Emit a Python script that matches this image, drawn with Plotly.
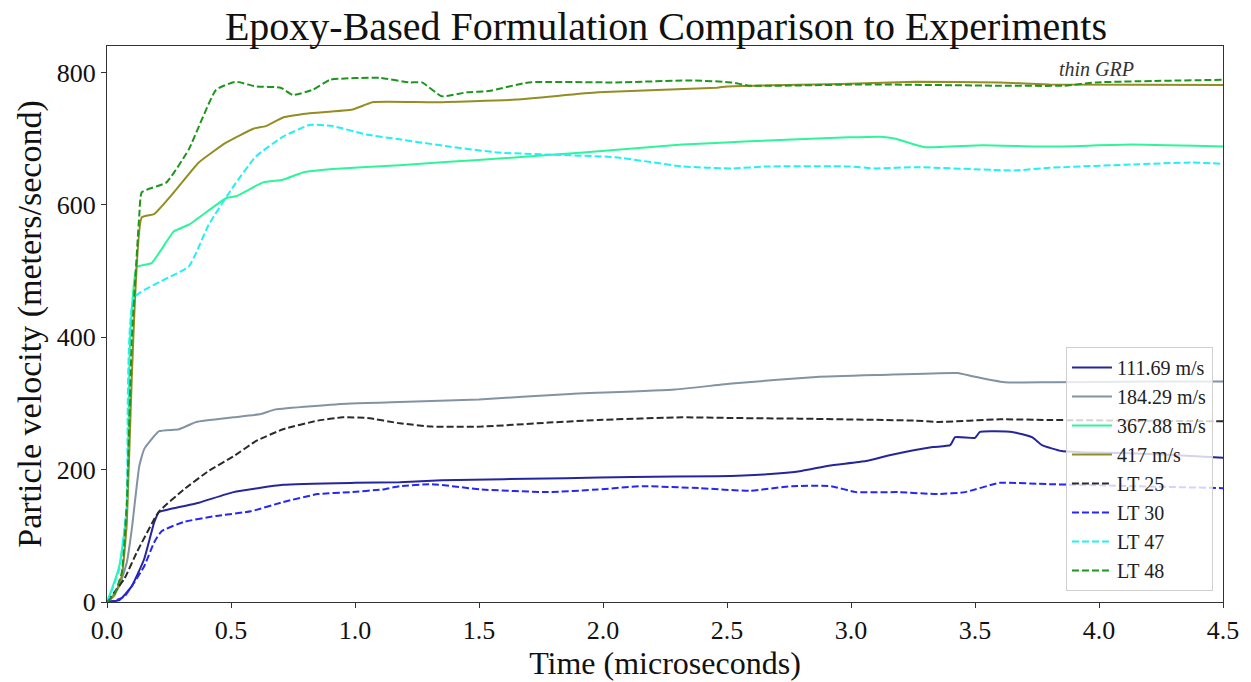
import plotly.graph_objects as go

# ---- data ----
labels = ["111.69 m/s", "184.29 m/s", "367.88 m/s", "417 m/s", "LT 25", "LT 30", "LT 47", "LT 48"]

t_111 = [0, 0.05, 0.10, 0.15, 0.19, 0.21, 0.25, 0.37, 0.51, 0.71, 1.0, 1.18, 1.35, 1.85, 2.12, 2.46, 2.66, 2.80, 2.91, 3.06, 3.16, 3.33, 3.40, 3.42, 3.50, 3.52, 3.65, 3.73, 3.77, 3.85, 3.95, 4.1, 4.3, 4.5]
v_111 = [0, 3, 24, 65, 120, 136, 140, 150, 166, 177, 180, 181, 184, 187, 189, 190, 193, 198, 206, 213, 222, 234, 237, 249, 248, 257, 257, 249, 237, 228, 226, 225, 222, 218]

t_184 = [0, 0.02, 0.05, 0.08, 0.10, 0.13, 0.15, 0.21, 0.29, 0.36, 0.51, 0.62, 0.68, 0.98, 1.18, 1.5, 1.85, 2.29, 2.52, 2.86, 3.12, 3.43, 3.49, 3.62, 3.80, 4.2, 4.5]
v_184 = [0, 8, 24, 60, 110, 205, 231, 258, 261, 272, 279, 284, 291, 300, 302, 306, 314, 321, 330, 340, 343, 346, 341, 332, 332, 333, 333]

t_367 = [0, 0.02, 0.05, 0.08, 0.093, 0.12, 0.18, 0.27, 0.33, 0.48, 0.52, 0.63, 0.71, 0.79, 0.91, 1.18, 1.38, 1.58, 1.92, 2.32, 2.59, 2.99, 3.12, 3.18, 3.24, 3.30, 3.53, 3.80, 4.13, 4.5]
v_367 = [0, 20, 55, 136, 397, 506, 512, 560, 570, 610, 613, 634, 638, 649, 654, 660, 665, 670, 679, 691, 696, 702, 703, 700, 693, 687, 690, 688, 691, 688]

t_417 = [0, 0.03, 0.06, 0.08, 0.10, 0.14, 0.19, 0.27, 0.37, 0.48, 0.59, 0.64, 0.71, 0.81, 0.99, 1.07, 1.31, 1.65, 1.98, 2.46, 2.50, 2.99, 3.26, 3.60, 3.80, 4.5]
v_417 = [0, 10, 40, 120, 340, 581, 586, 619, 664, 694, 715, 719, 732, 738, 744, 755, 755, 759, 770, 777, 779, 783, 786, 785, 782, 781]

t_lt25 = [0, 0.03, 0.07, 0.12, 0.19, 0.21, 0.31, 0.41, 0.51, 0.60, 0.71, 0.85, 0.95, 1.05, 1.18, 1.31, 1.51, 1.78, 1.98, 2.32, 2.52, 2.79, 3.26, 3.35, 3.60, 3.80, 4.5]
v_lt25 = [0, 15, 35, 75, 125, 137, 170, 198, 220, 243, 261, 274, 279, 278, 270, 265, 265, 271, 275, 279, 278, 277, 274, 272, 276, 275, 273]

t_lt30 = [0, 0.03, 0.07, 0.10, 0.15, 0.19, 0.22, 0.31, 0.44, 0.58, 0.71, 0.85, 0.98, 1.11, 1.18, 1.31, 1.51, 1.78, 1.98, 2.16, 2.39, 2.59, 2.76, 2.92, 3.02, 3.19, 3.35, 3.46, 3.60, 3.80, 4.5]
v_lt30 = [0, 2, 8, 24, 54, 90, 107, 121, 130, 137, 151, 163, 166, 170, 175, 178, 170, 166, 170, 175, 172, 168, 175, 175, 166, 166, 163, 166, 180, 178, 172]

t_lt47 = [0, 0.02, 0.05, 0.08, 0.11, 0.33, 0.41, 0.51, 0.60, 0.71, 0.82, 0.91, 1.05, 1.18, 1.38, 1.58, 1.78, 2.05, 2.32, 2.52, 2.66, 2.99, 3.10, 3.26, 3.66, 3.80, 4.13, 4.37, 4.5]
v_lt47 = [0, 18, 50, 150, 460, 507, 570, 628, 673, 703, 721, 719, 706, 699, 688, 679, 676, 672, 658, 655, 658, 658, 655, 657, 652, 656, 661, 664, 662]

t_lt48 = [0, 0.03, 0.06, 0.08, 0.10, 0.13, 0.14, 0.24, 0.33, 0.44, 0.52, 0.60, 0.70, 0.75, 0.83, 0.90, 1.10, 1.22, 1.27, 1.35, 1.45, 1.54, 1.70, 2.05, 2.36, 2.52, 2.59, 3.06, 3.60, 3.86, 3.99, 4.5]
v_lt48 = [0, 12, 45, 150, 397, 583, 619, 634, 684, 774, 786, 779, 777, 766, 774, 789, 792, 785, 785, 764, 770, 772, 785, 785, 788, 785, 780, 782, 780, 780, 785, 789]

x_ticks = [0.0, 0.5, 1.0, 1.5, 2.0, 2.5, 3.0, 3.5, 4.0, 4.5]
y_ticks = [0, 200, 400, 600, 800]

series = [
    (t_111, v_111, "#25259c", "solid"),
    (t_184, v_184, "#8293a4", "solid"),
    (t_367, v_367, "#2ff59a", "solid"),
    (t_417, v_417, "#938d22", "solid"),
    (t_lt25, v_lt25, "#2b2b2b", "7px,3px"),
    (t_lt30, v_lt30, "#2626f5", "7px,3px"),
    (t_lt47, v_lt47, "#22f0f5", "7px,3px"),
    (t_lt48, v_lt48, "#1d961d", "7px,3px"),
]

FONT = "Liberation Serif"

fig = go.Figure()
for (t, v, c, d), name in zip(series, labels):
    fig.add_trace(go.Scatter(x=t, y=v, mode="lines", name=name,
                             line=dict(color=c, width=2, dash=d, shape="spline", smoothing=0.4)))

fig.add_annotation(x=3.99, y=805, text="<i>thin GRP</i>", showarrow=False,
                   font=dict(family=FONT, size=20, color="#333333"))

axis_common = dict(showline=True, linecolor="#333333", linewidth=1.3, mirror=True,
                   ticks="outside", ticklen=5, tickcolor="#333333", showgrid=False,
                   zeroline=False, tickfont=dict(family=FONT, size=26, color="#111111"))

fig.update_layout(
    width=1251, height=682,
    paper_bgcolor="white", plot_bgcolor="white",
    margin=dict(l=107, r=26, t=46, b=79),
    title=dict(text="Epoxy-Based Formulation Comparison to Experiments",
               x=(107 + 1225) / 2 / 1251, xanchor="center", y=0.962, yanchor="middle",
               font=dict(family=FONT, size=40, color="#111111")),
    xaxis=dict(range=[0, 4.5], tickvals=x_ticks, ticktext=[f"{v:.1f}" for v in x_ticks],
               title=dict(text="Time (microseconds)", standoff=2,
                          font=dict(family=FONT, size=32, color="#111111")),
               **axis_common),
    yaxis=dict(range=[0, 840], tickvals=y_ticks, ticktext=[str(v) for v in y_ticks],
               title=dict(text="Particle velocity (meters/second)", standoff=4,
                          font=dict(family=FONT, size=34, color="#111111")),
               **axis_common),
    legend=dict(x=0.991, xanchor="right", y=0.02, yanchor="bottom",
                bgcolor="rgba(255,255,255,0.8)", bordercolor="#d0d0d0", borderwidth=1,
                font=dict(family=FONT, size=20, color="#222222"),
                tracegroupgap=0, itemwidth=40),
    showlegend=True,
)

fig.write_html("out.html")
